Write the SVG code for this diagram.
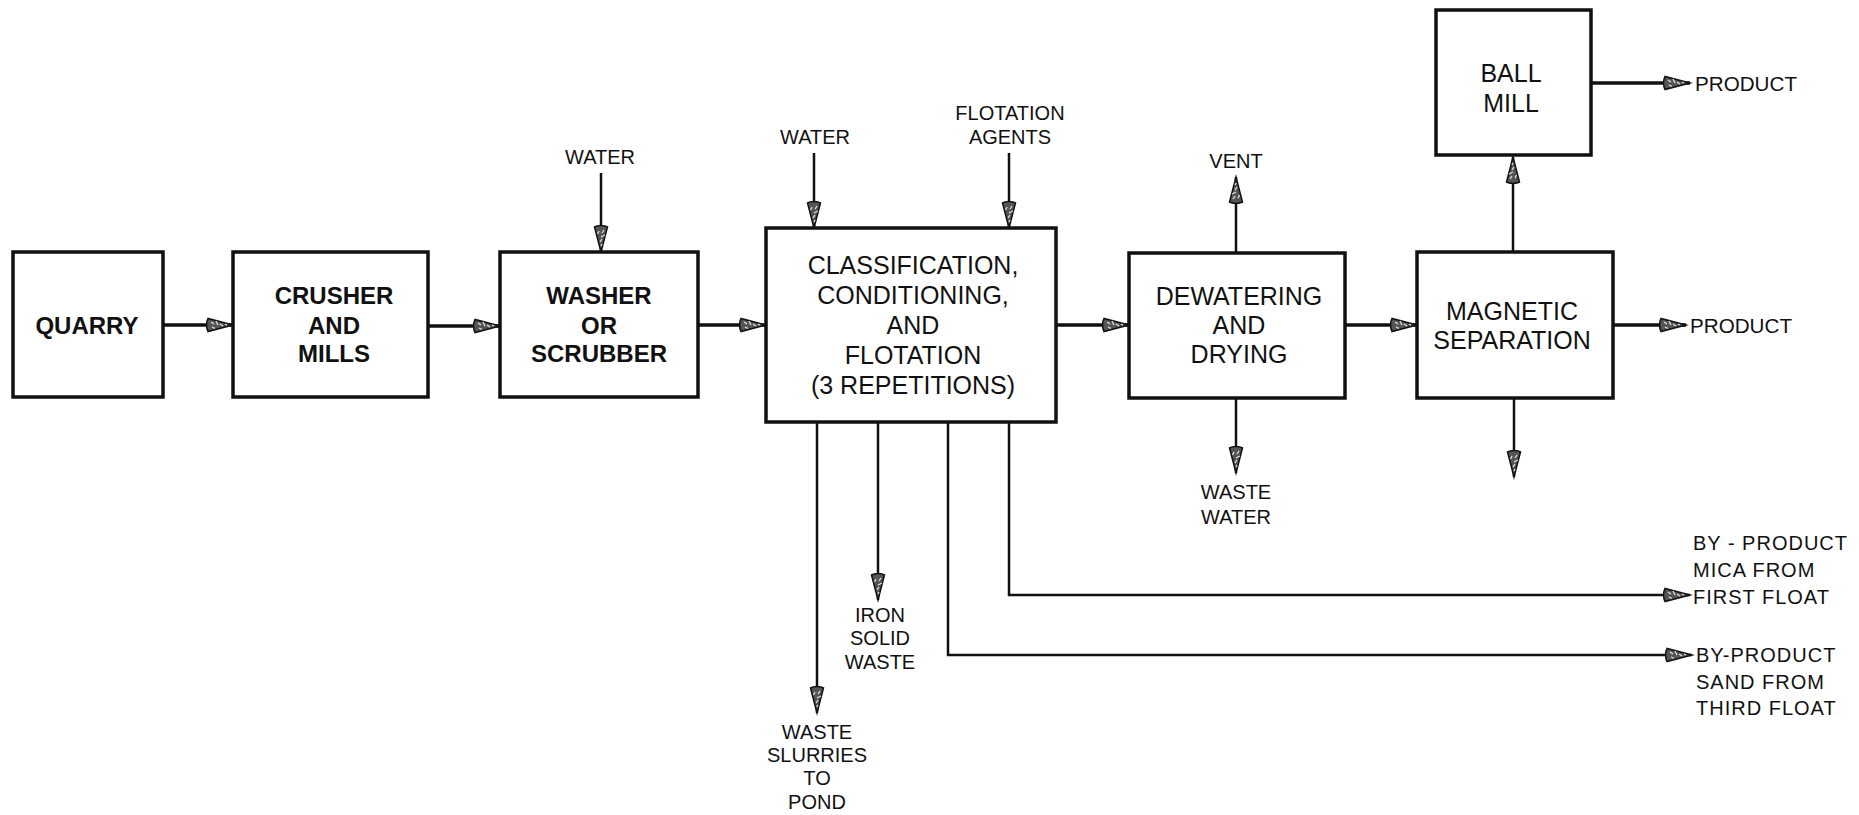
<svg xmlns="http://www.w3.org/2000/svg" width="1859" height="815" viewBox="0 0 1859 815">
<style>
.box{fill:#fff;stroke:#111;stroke-width:3.5}
.bt{font-family:"Liberation Sans",Arial,sans-serif;font-size:25px;fill:#111;text-anchor:middle}
.bb{font-weight:bold;font-size:24px}
.lb{font-family:"Liberation Sans",Arial,sans-serif;font-size:20px;fill:#111;text-anchor:middle}
.st{text-anchor:start}
.ls{text-anchor:start;letter-spacing:1px}
.ln{fill:none;stroke:#111;stroke-width:2.5}
.lm{fill:none;stroke:#111;stroke-width:3.5}
</style>
<defs>
<marker id="ah" markerUnits="userSpaceOnUse" markerWidth="30" markerHeight="18" refX="27" refY="9" orient="auto">
<path d="M2,2.5 Q-1,9 2,15.5 L27,9 Z" fill="#555" stroke="#111" stroke-width="1.5"/>
<path d="M5,6 L8,8 M10,5 L12,9 M6,11 L9,12.5 M14,8 L17,10 M19,8 L21,9" stroke="#e0e0e0" stroke-width="1.3"/>
</marker>
</defs>
<rect width="1859" height="815" fill="#fff"/>
<g id="connectors">
<line class="lm" x1="163" y1="325" x2="233" y2="325" marker-end="url(#ah)"/>
<line class="lm" x1="428" y1="326" x2="500" y2="326" marker-end="url(#ah)"/>
<line class="lm" x1="698" y1="325" x2="766" y2="325" marker-end="url(#ah)"/>
<line class="lm" x1="1056" y1="325" x2="1129" y2="325" marker-end="url(#ah)"/>
<line class="lm" x1="1345" y1="325" x2="1417" y2="325" marker-end="url(#ah)"/>
<line class="lm" x1="1613" y1="325" x2="1686" y2="325" marker-end="url(#ah)"/>
<line class="lm" x1="1591" y1="83" x2="1690" y2="83" marker-end="url(#ah)"/>
<line class="ln" x1="1513" y1="252" x2="1513" y2="157" marker-end="url(#ah)"/>
<line class="ln" x1="1514" y1="398" x2="1514" y2="477" marker-end="url(#ah)"/>
<line class="ln" x1="1236" y1="253" x2="1236" y2="177" marker-end="url(#ah)"/>
<line class="ln" x1="1236" y1="398" x2="1236" y2="473" marker-end="url(#ah)"/>
<line class="ln" x1="601" y1="173" x2="601" y2="252" marker-end="url(#ah)"/>
<line class="ln" x1="814" y1="153" x2="814" y2="228" marker-end="url(#ah)"/>
<line class="ln" x1="1009" y1="153" x2="1009" y2="228" marker-end="url(#ah)"/>
<line class="ln" x1="817" y1="422" x2="817" y2="713" marker-end="url(#ah)"/>
<line class="ln" x1="878" y1="422" x2="878" y2="600" marker-end="url(#ah)"/>
<polyline class="ln" points="948,422 948,655 1692,655" marker-end="url(#ah)"/>
<polyline class="ln" points="1009,422 1009,595 1690,595" marker-end="url(#ah)"/>
</g>
<g id="quarry">
<rect class="box" x="13" y="252" width="150" height="145"/>
<text class="bt bb" x="87" y="334">QUARRY</text>
</g>
<g id="crusher">
<rect class="box" x="233" y="252" width="195" height="145"/>
<text class="bt bb" x="334" y="304">CRUSHER</text>
<text class="bt bb" x="334" y="334">AND</text>
<text class="bt bb" x="334" y="362">MILLS</text>
</g>
<g id="washer">
<rect class="box" x="500" y="252" width="198" height="145"/>
<text class="bt bb" x="599" y="304">WASHER</text>
<text class="bt bb" x="599" y="334">OR</text>
<text class="bt bb" x="599" y="362">SCRUBBER</text>
</g>
<g id="classification">
<rect class="box" x="766" y="228" width="290" height="194"/>
<text class="bt" x="913" y="274">CLASSIFICATION,</text>
<text class="bt" x="913" y="304">CONDITIONING,</text>
<text class="bt" x="913" y="334">AND</text>
<text class="bt" x="913" y="364">FLOTATION</text>
<text class="bt" x="913" y="394">(3 REPETITIONS)</text>
</g>
<g id="dewatering">
<rect class="box" x="1129" y="253" width="216" height="145"/>
<text class="bt" x="1239" y="305">DEWATERING</text>
<text class="bt" x="1239" y="334">AND</text>
<text class="bt" x="1239" y="363">DRYING</text>
</g>
<g id="magnetic">
<rect class="box" x="1417" y="252" width="196" height="146"/>
<text class="bt" x="1512" y="320">MAGNETIC</text>
<text class="bt" x="1512" y="349">SEPARATION</text>
</g>
<g id="ballmill">
<rect class="box" x="1436" y="10" width="155" height="145"/>
<text class="bt" x="1511" y="82">BALL</text>
<text class="bt" x="1511" y="112">MILL</text>
</g>
<g id="labels">
<text class="lb" x="600" y="164">WATER</text>
<text class="lb" x="815" y="144">WATER</text>
<text class="lb" x="1010" y="120">FLOTATION</text>
<text class="lb" x="1010" y="144">AGENTS</text>
<text class="lb" x="1236" y="168">VENT</text>
<text class="lb" x="1236" y="499">WASTE</text>
<text class="lb" x="1236" y="524">WATER</text>
<text class="lb st" x="1695" y="91" textLength="102" lengthAdjust="spacingAndGlyphs">PRODUCT</text>
<text class="lb st" x="1690" y="333" textLength="102" lengthAdjust="spacingAndGlyphs">PRODUCT</text>
<text class="lb" x="817" y="739">WASTE</text>
<text class="lb" x="817" y="762">SLURRIES</text>
<text class="lb" x="817" y="785">TO</text>
<text class="lb" x="817" y="809">POND</text>
<text class="lb" x="880" y="622">IRON</text>
<text class="lb" x="880" y="645">SOLID</text>
<text class="lb" x="880" y="669">WASTE</text>
<text class="lb ls" x="1693" y="550">BY - PRODUCT</text>
<text class="lb ls" x="1693" y="577">MICA FROM</text>
<text class="lb ls" x="1693" y="604">FIRST FLOAT</text>
<text class="lb ls" x="1696" y="662">BY-PRODUCT</text>
<text class="lb ls" x="1696" y="689">SAND FROM</text>
<text class="lb ls" x="1696" y="715">THIRD FLOAT</text>
</g>
</svg>
